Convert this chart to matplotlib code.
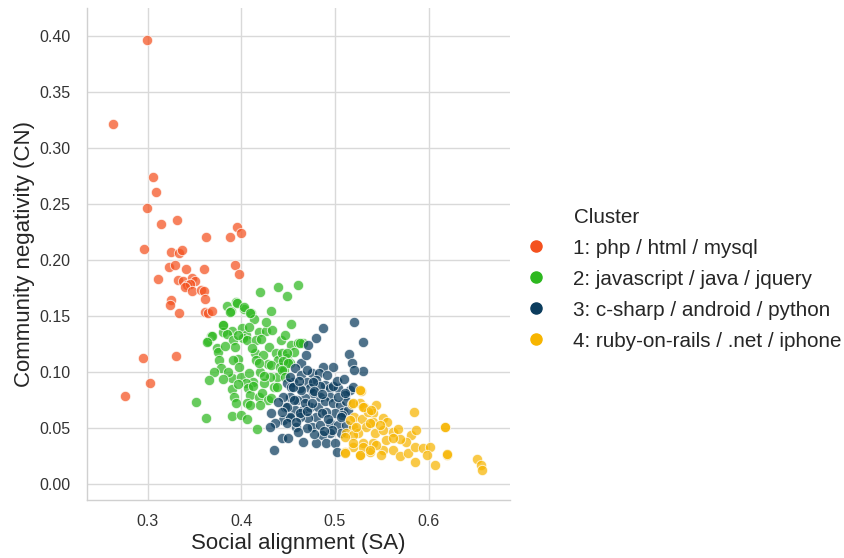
import matplotlib
matplotlib.use("Agg")
import matplotlib.pyplot as plt
from matplotlib.lines import Line2D

plt.rcParams["font.family"] = ["Liberation Sans", "DejaVu Sans"]

# Cluster 1: php / html / mysql
red_sa = [0.2996, 0.263, 0.306, 0.3089, 0.2996, 0.3142, 0.331, 0.3625, 0.3953, 0.3993,
          0.3875, 0.296, 0.3252, 0.3334, 0.3366, 0.3224, 0.3295, 0.3405, 0.3601, 0.3932,
          0.3978, 0.3107, 0.3327, 0.338, 0.3476, 0.3505, 0.3416, 0.3451, 0.3398, 0.3476,
          0.3569, 0.3601, 0.3608, 0.3252, 0.3235, 0.3337, 0.3612, 0.3647, 0.3683, 0.2953,
          0.3305, 0.3028, 0.2761]
red_cn = [0.396, 0.3217, 0.274, 0.261, 0.246, 0.232, 0.2354, 0.2203, 0.2292, 0.2241,
          0.2208, 0.2095, 0.2071, 0.2065, 0.2092, 0.1935, 0.1955, 0.192, 0.1922, 0.1955,
          0.1878, 0.183, 0.1821, 0.1812, 0.1842, 0.1812, 0.1777, 0.1783, 0.1756, 0.1726,
          0.1732, 0.1726, 0.1652, 0.164, 0.1598, 0.1524, 0.1533, 0.1524, 0.1548, 0.1128,
          0.1143, 0.0905, 0.0788]

# Cluster 2: javascript / java / jquery
green_sa = [0.4198, 0.4397, 0.4607, 0.4490, 0.3849, 0.3949, 0.3885, 0.4027, 0.4102, 0.4141,
            0.4315, 0.4536, 0.3807, 0.3903, 0.4013, 0.4049, 0.4084, 0.4191, 0.4269, 0.3800,
            0.3849, 0.3682, 0.3640, 0.3736, 0.3750, 0.3917, 0.3938, 0.4020, 0.4056, 0.4155,
            0.4209, 0.4422, 0.4536, 0.4607, 0.4660, 0.4294, 0.4148, 0.4237, 0.4162, 0.3967,
            0.3913, 0.3757, 0.3782, 0.3707, 0.3654, 0.3515, 0.3906, 0.4002, 0.4084, 0.4205,
            0.4287, 0.4369, 0.4397, 0.4440, 0.4490, 0.4518, 0.4561, 0.4322, 0.4411, 0.4461,
            0.4383, 0.4305, 0.4248, 0.4347, 0.4383, 0.4127, 0.4049, 0.4070, 0.3906, 0.3920,
            0.4091, 0.3949, 0.4056, 0.4191, 0.4216, 0.4287, 0.4315, 0.4198, 0.4098, 0.3899,
            0.4002, 0.4056, 0.4170, 0.3622, 0.4625, 0.4483, 0.4448, 0.4501, 0.4430, 0.4465,
            0.3950, 0.3882, 0.4028, 0.4089, 0.3800, 0.3683, 0.3636,
            0.3830, 0.3970, 0.4110, 0.4190, 0.3860, 0.3980, 0.4130, 0.4240, 0.3960, 0.3800,
            0.4330, 0.4260, 0.4470]
green_cn = [0.1709, 0.1756, 0.1780, 0.1682, 0.1584, 0.1622, 0.1542, 0.1563, 0.1524, 0.1474,
            0.1545, 0.1426, 0.1420, 0.1369, 0.1390, 0.1331, 0.1399, 0.1360, 0.1366, 0.1360,
            0.1340, 0.1325, 0.1277, 0.1212, 0.1182, 0.1286, 0.1221, 0.1301, 0.1286, 0.1289,
            0.1295, 0.1286, 0.1241, 0.1256, 0.1262, 0.1221, 0.1167, 0.1152, 0.1107, 0.1113,
            0.1107, 0.1102, 0.1033, 0.1003, 0.0929, 0.0735, 0.0950, 0.0953, 0.0988, 0.1003,
            0.1069, 0.1173, 0.1107, 0.1173, 0.1125, 0.1078, 0.1182, 0.1063, 0.1042, 0.1018,
            0.0953, 0.0959, 0.0899, 0.0869, 0.0863, 0.0914, 0.0899, 0.0854, 0.0846, 0.0780,
            0.0795, 0.0721, 0.0721, 0.0780, 0.0810, 0.0750, 0.0765, 0.0706, 0.0706, 0.0610,
            0.0616, 0.0578, 0.0488, 0.0587, 0.1256, 0.1167, 0.1093, 0.1078, 0.1018, 0.0959,
            0.1619, 0.1538, 0.1578, 0.1524, 0.1420, 0.1324, 0.1270,
            0.1230, 0.1330, 0.1210, 0.1080, 0.1000, 0.1040, 0.0870, 0.0960, 0.0890, 0.0940,
            0.1370, 0.1450, 0.1330]

# Cluster 3: c-sharp / android / python
blue_sa = [0.4874, 0.5205, 0.4793, 0.4714, 0.5301, 0.5148, 0.5184, 0.5301, 0.5202, 0.4981,
           0.4874, 0.4636, 0.4572, 0.4643, 0.4750, 0.4832, 0.4803, 0.4697, 0.4554, 0.4483,
           0.4536, 0.4625, 0.4732, 0.4892, 0.4945, 0.5034, 0.5159, 0.5106, 0.4945, 0.4839,
           0.4768, 0.4679, 0.4590, 0.4519, 0.4465, 0.4572, 0.4661, 0.4732, 0.4821, 0.4892,
           0.4981, 0.5052, 0.5088, 0.4999, 0.4910, 0.4803, 0.4714, 0.4625, 0.4519, 0.4448,
           0.4430, 0.4501, 0.4661, 0.4750, 0.4839, 0.4945, 0.5034, 0.5070, 0.4945, 0.4857,
           0.4803, 0.4910, 0.4999, 0.5017, 0.5123, 0.5141, 0.5123, 0.5034, 0.4981, 0.4839,
           0.4768, 0.4643, 0.4696, 0.4518, 0.4554, 0.4447, 0.4394, 0.4322, 0.4358, 0.4305,
           0.4483, 0.4518, 0.4625, 0.4678, 0.4483, 0.4589, 0.4349, 0.5194, 0.5106, 0.5071,
           0.4700, 0.4760, 0.4860, 0.4930, 0.4970, 0.4880, 0.4780, 0.4700, 0.4610, 0.4560,
           0.4620, 0.4780, 0.4860, 0.5060, 0.5020, 0.5100, 0.4920, 0.4700, 0.4580, 0.4430]
blue_cn = [0.1390, 0.1444, 0.1301, 0.1236, 0.1265, 0.1158, 0.1078, 0.1012, 0.1018, 0.1042,
           0.1048, 0.1078, 0.1033, 0.0974, 0.0989, 0.0989, 0.0929, 0.0914, 0.0914, 0.0899,
           0.0869, 0.0855, 0.0855, 0.0884, 0.0855, 0.0855, 0.0840, 0.0795, 0.0780, 0.0780,
           0.0810, 0.0765, 0.0750, 0.0780, 0.0691, 0.0661, 0.0661, 0.0691, 0.0691, 0.0736,
           0.0721, 0.0706, 0.0646, 0.0631, 0.0646, 0.0602, 0.0587, 0.0602, 0.0587, 0.0572,
           0.0408, 0.0408, 0.0370, 0.0512, 0.0527, 0.0542, 0.0527, 0.0453, 0.0453, 0.0438,
           0.0364, 0.0364, 0.0364, 0.0289, 0.0527, 0.0661, 0.0736, 0.0780, 0.0870, 0.0870,
           0.0914, 0.0840, 0.1152, 0.0959, 0.0869, 0.0780, 0.0735, 0.0631, 0.0542, 0.0512,
           0.0691, 0.0602, 0.0631, 0.0721, 0.0542, 0.0512, 0.0304, 0.0863, 0.0810, 0.0613,
           0.0650, 0.0720, 0.0630, 0.0580, 0.0480, 0.0470, 0.0450, 0.0500, 0.0460, 0.0750,
           0.0920, 0.0830, 0.0800, 0.0600, 0.0920, 0.0940, 0.0970, 0.1020, 0.0550, 0.0640]

# Cluster 4: ruby-on-rails / .net / iphone
yellow_sa = [0.5276, 0.5184, 0.5265, 0.5308, 0.5443, 0.5842, 0.6173, 0.5201, 0.5290, 0.5408,
             0.5514, 0.5561, 0.5408, 0.5336, 0.5194, 0.5248, 0.5123, 0.5425, 0.5514, 0.5621,
             0.5674, 0.5817, 0.5870, 0.5763, 0.5692, 0.5550, 0.5408, 0.5301, 0.5194, 0.5105,
             0.5265, 0.5372, 0.5514, 0.5621, 0.5692, 0.5781, 0.5852, 0.5941, 0.6013, 0.5984,
             0.5852, 0.6066, 0.6198, 0.5497, 0.5443, 0.5621, 0.5479, 0.5354, 0.5194, 0.6173,
             0.6198, 0.6518, 0.6565, 0.6575, 0.5266, 0.5195, 0.5301, 0.5390, 0.5159, 0.5230,
             0.5372, 0.5106, 0.5195, 0.5301, 0.5106, 0.5266, 0.5372]
yellow_cn = [0.0834, 0.0715, 0.0727, 0.0685, 0.0706, 0.0646, 0.0512, 0.0602, 0.0581, 0.0631,
             0.0587, 0.0557, 0.0557, 0.0512, 0.0512, 0.0453, 0.0453, 0.0453, 0.0483, 0.0468,
             0.0489, 0.0438, 0.0483, 0.0378, 0.0399, 0.0393, 0.0364, 0.0364, 0.0334, 0.0289,
             0.0259, 0.0289, 0.0304, 0.0304, 0.0245, 0.0280, 0.0334, 0.0319, 0.0334, 0.0259,
             0.0200, 0.0170, 0.0259, 0.0259, 0.0349, 0.0408, 0.0527, 0.0646, 0.0438, 0.0506,
             0.0265, 0.0220, 0.0170, 0.0125, 0.0840, 0.0721, 0.0691, 0.0661, 0.0572, 0.0512,
             0.0542, 0.0423, 0.0364, 0.0334, 0.0274, 0.0260, 0.0304]

cluster_labels = ["1: php / html / mysql", "2: javascript / java / jquery",
                  "3: c-sharp / android / python", "4: ruby-on-rails / .net / iphone"]
cluster_colors = ["#F4511E", "#2DB81F", "#0B3C5D", "#F7B500"]
x_ticks = [0.3, 0.4, 0.5, 0.6]
y_ticks = [0.00, 0.05, 0.10, 0.15, 0.20, 0.25, 0.30, 0.35, 0.40]

series = [(red_sa, red_cn), (green_sa, green_cn), (blue_sa, blue_cn), (yellow_sa, yellow_cn)]

fig = plt.figure(figsize=(8.44, 5.58), dpi=100)
ax = fig.add_axes([0.103, 0.104, 0.501, 0.882])

for (xs, ys), col in zip(series, cluster_colors):
    ax.scatter(xs, ys, s=55, color=col, alpha=0.72, edgecolors="white",
               linewidths=0.7, zorder=3)

ax.set_xlim(0.2352, 0.6867)
ax.set_ylim(-0.0143, 0.425)
ax.set_xticks(x_ticks)
ax.set_xticklabels([f"{t:.1f}" for t in x_ticks])
ax.set_yticks(y_ticks)
ax.set_yticklabels([f"{t:.2f}" for t in y_ticks])
ax.grid(True, color="#d9d9d9", linewidth=1.0, zorder=0)
ax.set_axisbelow(True)
for side in ["top", "right"]:
    ax.spines[side].set_visible(False)
for side in ["left", "bottom"]:
    ax.spines[side].set_color("#d0d0d0")
    ax.spines[side].set_linewidth(1.0)
ax.tick_params(axis="both", length=0, labelsize=11.5, colors="#333333")
ax.tick_params(axis="y", pad=12)
ax.tick_params(axis="x", pad=10)
ax.set_xlabel("Social alignment (SA)", fontsize=16, color="#262626", labelpad=3)
ax.set_ylabel("Community negativity (CN)", fontsize=16, color="#262626", labelpad=3)

handles = [Line2D([0], [0], marker="o", linestyle="", markersize=8,
                  markerfacecolor=c, markeredgecolor=c) for c in cluster_colors]
leg = fig.legend(handles, cluster_labels, loc="upper left",
                 bbox_to_anchor=(0.610, 0.587), frameon=False, fontsize=14.9,
                 handletextpad=1.2, labelspacing=0.58, handlelength=1.2,
                 borderaxespad=0)
for t in leg.get_texts():
    t.set_color("#262626")
fig.text(0.680, 0.611, "Cluster", fontsize=14.9, color="#262626", va="center", ha="left")

fig.savefig("out.png", dpi=100)
